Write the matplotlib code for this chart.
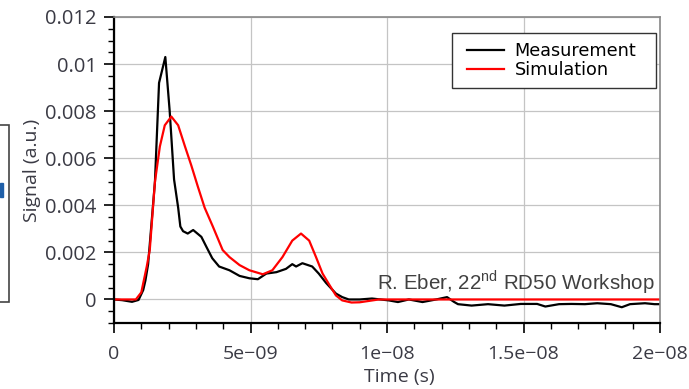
import matplotlib.pyplot as plt
import matplotlib.ticker as mticker
from matplotlib.patches import Rectangle

# values (time in ns, signal in a.u.)
t_meas = [0, 0.3, 0.66, 0.9, 1.07, 1.15, 1.25, 1.5, 1.65, 1.88, 2.04, 2.2,
          2.35, 2.43, 2.53, 2.7, 2.9, 3.2, 3.4, 3.6, 3.85, 4.23, 4.6, 4.96,
          5.27, 5.58, 5.95, 6.3, 6.53, 6.67, 6.9, 7.26, 7.5, 7.77, 8.13,
          8.36, 8.6, 9.0, 9.45, 10.07, 10.4, 10.8, 11.3, 11.8, 12.2, 12.45,
          12.6, 13.1, 13.7, 14.3, 14.9, 15.5, 15.8, 16.3, 16.75, 17.25, 17.7,
          18.2, 18.6, 18.9, 19.45, 19.8, 20.0]
v_meas = [0, -0.00003, -0.0001, -0.00002, 0.0004, 0.0008, 0.0015, 0.005,
          0.0092, 0.0103, 0.008, 0.0051, 0.0039, 0.0031, 0.0029, 0.0028,
          0.00295, 0.00266, 0.0022, 0.00175, 0.0014, 0.00124, 0.001, 0.0009,
          0.00086, 0.0011, 0.00116, 0.0013, 0.0015, 0.0014, 0.00154, 0.0014,
          0.0011, 0.0007, 0.00025, 0.0001, 0.0, 0.0, 0.00004, -0.00004,
          -0.00011, 0.0, -0.00011, 0.0, 0.0001, -0.0001, -0.0002, -0.00026,
          -0.0002, -0.00026, -0.00019, -0.00019, -0.0003, -0.0002, -0.00019,
          -0.0002, -0.00016, -0.0002, -0.00033, -0.0002, -0.00016, -0.0002,
          -0.0002]

t_sim = [0, 0.8, 1.0, 1.2, 1.31, 1.5, 1.68, 1.86, 2.1, 2.35, 2.6, 2.83,
         3.07, 3.32, 3.62, 3.98, 4.23, 4.6, 4.96, 5.45, 5.8, 6.17, 6.53,
         6.85, 7.15, 7.4, 7.64, 7.9, 8.13, 8.36, 8.7, 9.0, 9.7, 20.0]
v_sim = [0, 0, 0.0003, 0.0014, 0.0021, 0.005, 0.0065, 0.0074, 0.00777,
         0.0074, 0.0065, 0.0057, 0.0048, 0.0039, 0.0031, 0.0021, 0.0018,
         0.00146, 0.00124, 0.00107, 0.00124, 0.0018, 0.0025, 0.0028, 0.0025,
         0.0018, 0.0011, 0.0006, 0.00017, -0.00004, -0.00013, -0.00012, 0,
         0]

x_ticks = [0, 5e-9, 1e-8, 1.5e-8, 2e-8]
x_labels = ["0", "5e\u221209", "1e\u221208", "1.5e\u221208", "2e\u221208"]
y_ticks = [0, 0.002, 0.004, 0.006, 0.008, 0.01, 0.012]
y_labels = ["0", "0.002", "0.004", "0.006", "0.008", "0.01", "0.012"]

plt.rcParams['mathtext.fontset'] = 'custom'
plt.rcParams['mathtext.rm'] = 'Liberation Sans'

label_col = "#3a3a44"

fig = plt.figure(figsize=(6.89, 3.89), dpi=100)
ax = fig.add_axes([114 / 689, 1 - 323 / 389, 546 / 689, 306 / 389])

ax.plot([t * 1e-9 for t in t_meas], v_meas, color="black", lw=1.6,
        label="Measurement")
ax.plot([t * 1e-9 for t in t_sim], v_sim, color="#ff0000", lw=1.6,
        label="Simulation")

ax.set_xlim(0, 2e-8)
ax.set_ylim(-0.001, 0.012)
ax.set_xticks(x_ticks)
ax.set_xticklabels(x_labels, fontsize=14, family="Open Sans", color=label_col)
ax.set_yticks(y_ticks)
ax.set_yticklabels(y_labels, fontsize=14.5, family="Open Sans",
                   color=label_col)
ax.xaxis.set_minor_locator(mticker.MultipleLocator(1e-9))
ax.yaxis.set_minor_locator(mticker.MultipleLocator(0.0005))

ax.tick_params(which="major", length=7.5, width=1.2, color="black")
ax.tick_params(axis="y", which="major", pad=5)
ax.tick_params(axis="x", which="major", pad=8)
ax.tick_params(which="minor", length=4.5, width=1.0, color="black")

ax.grid(True, which="major", color="#c4c4c4", lw=0.9)
ax.set_axisbelow(True)

ax.spines["left"].set_linewidth(1.6)
ax.spines["bottom"].set_linewidth(1.6)
for s in ["top", "right"]:
    ax.spines[s].set_color("#888888")
    ax.spines[s].set_linewidth(1.2)

ax.set_xlabel("Time (s)", fontsize=14, family="Open Sans", color=label_col)
ax.xaxis.set_label_coords(0.522, -0.148)
ax.set_ylabel("Signal (a.u.)", fontsize=14, family="Open Sans",
              color=label_col, labelpad=3)

# legend entries without their own frame, box drawn separately
leg = ax.legend(loc="upper left", bbox_to_anchor=(0.6337, 0.94),
                prop={"family": "DejaVu Sans", "size": 12.7},
                frameon=False, handlelength=2.1, handletextpad=0.6,
                borderpad=0.4, labelspacing=0.05, borderaxespad=0)
ax.add_patch(Rectangle((0.619, 0.768), 0.3737, 0.18, transform=ax.transAxes,
                       facecolor="white", edgecolor="#333333", lw=1.0,
                       zorder=4))
leg.set_zorder(5)

fig.text(377 / 689, 1 - 290 / 389, "R. Eber, 22$^{\\mathrm{nd}}$ RD50 Workshop",
         family="Liberation Sans", fontsize=14.8, color="#404040",
         ha="left", va="baseline")

# edge of a slide box cut off at the left
fig.patches.append(Rectangle((-0.01, 1 - 302 / 389), 9 / 689 + 0.01,
                             177 / 389, transform=fig.transFigure,
                             fill=False, edgecolor="#444444", lw=1.2))
fig.patches.append(Rectangle((0, 1 - 197 / 389), 3 / 689, 14 / 389,
                             transform=fig.transFigure, color="#1f5fa8"))

fig.savefig("out.png", dpi=100)
